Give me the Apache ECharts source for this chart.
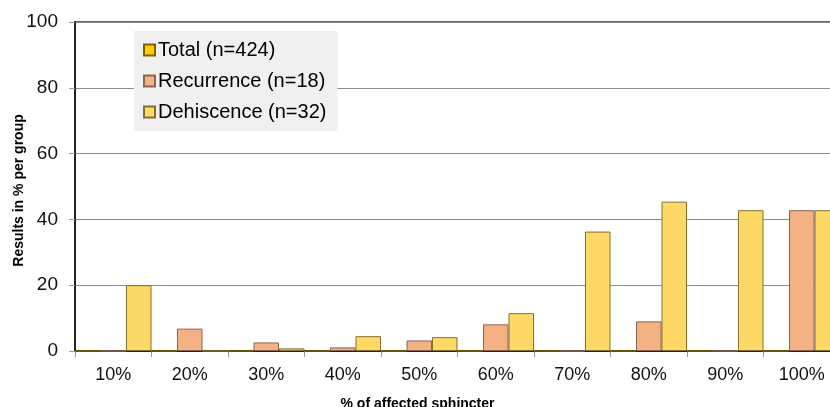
<!DOCTYPE html>
<html>
<head>
<meta charset="utf-8">
<script src="https://cdn.jsdelivr.net/npm/echarts@6/dist/echarts.min.js"></script>
<style>html,body{margin:0;padding:0;background:#fff}#c{width:830px;height:407px}</style>
</head>
<body>
<div id="c"></div>
<script>
const categories = ['10%','20%','30%','40%','50%','60%','70%','80%','90%','100%'];
const totalValues = [0,0,0,0,0,0,0,0,0,0];
const recurrenceValues = [0,6.8,2.6,1.1,3.2,8.1,0,9.0,0,42.8];
const dehiscenceValues = [20,0,0.8,4.5,4.2,11.5,36.3,45.4,42.8,42.8];
const seriesNames = ['Total (n=424)','Recurrence (n=18)','Dehiscence (n=32)'];
const yTicks = [0,20,40,60,80,100];

const chart = echarts.init(document.getElementById('c'), null, {renderer:'canvas'});
const font = 'Liberation Sans, Arial, sans-serif';
chart.setOption({
  animation:false,
  backgroundColor:'#ffffff',
  grid:{left:75, top:22, width:765, height:329, outerBoundsMode:'none', containLabel:false,
    show:true, borderColor:'#333', borderWidth:1.5, backgroundColor:'transparent'},
  legend:{
    orient:'vertical', left:134, top:31,
    backgroundColor:'#f0f0f0', padding:[9,11,9,9],
    itemWidth:11, itemHeight:11, itemGap:11,
    textStyle:{fontFamily:font, fontSize:20, color:'#000', padding:[0,0,0,-2]},
    data:seriesNames.map(n=>({name:n, icon:'rect'}))
  },
  xAxis:{
    type:'category', data:categories,
    axisLine:{lineStyle:{color:'#222', width:2}},
    axisTick:{show:true, length:6, lineStyle:{color:'#999'}},
    axisLabel:{fontFamily:font, fontSize:18, color:'#111', margin:15},
    name:'% of affected sphincter', nameLocation:'middle', nameGap:46,
    nameTextStyle:{fontFamily:font, fontWeight:'bold', fontSize:14, color:'#000', padding:[0,80,0,0]}
  },
  yAxis:{
    type:'value', min:yTicks[0], max:yTicks[yTicks.length-1], interval:20,
    axisLine:{show:true, lineStyle:{color:'#222', width:2}},
    axisTick:{show:true, length:6, lineStyle:{color:'#999'}},
    axisLabel:{fontFamily:font, fontSize:19, color:'#111', margin:17},
    splitLine:{lineStyle:{color:'#8c8c8c', width:1}},
    name:'Results in % per group', nameLocation:'middle', nameGap:49, nameRotate:90,
    nameMoveOverlap:false,
    nameTextStyle:{fontFamily:font, fontWeight:'bold', fontSize:14, color:'#000', padding:[0,8,0,0]}
  },
  series:[
    {name:seriesNames[0], type:'bar', data:totalValues, barGap:'0%', barCategoryGap:'0%',
      itemStyle:{color:'#FFCC00', borderColor:'#7a6200', borderWidth:1}},
    {name:seriesNames[1], type:'bar', data:recurrenceValues, barGap:'0%', barCategoryGap:'0%',
      itemStyle:{color:'#F4B183', borderColor:'#8a6450', borderWidth:1}},
    {name:seriesNames[2], type:'bar', data:dehiscenceValues, barGap:'0%', barCategoryGap:'0%',
      itemStyle:{color:'#FFD966', borderColor:'#85702a', borderWidth:1}}
  ]
});
</script>
</body>
</html>
